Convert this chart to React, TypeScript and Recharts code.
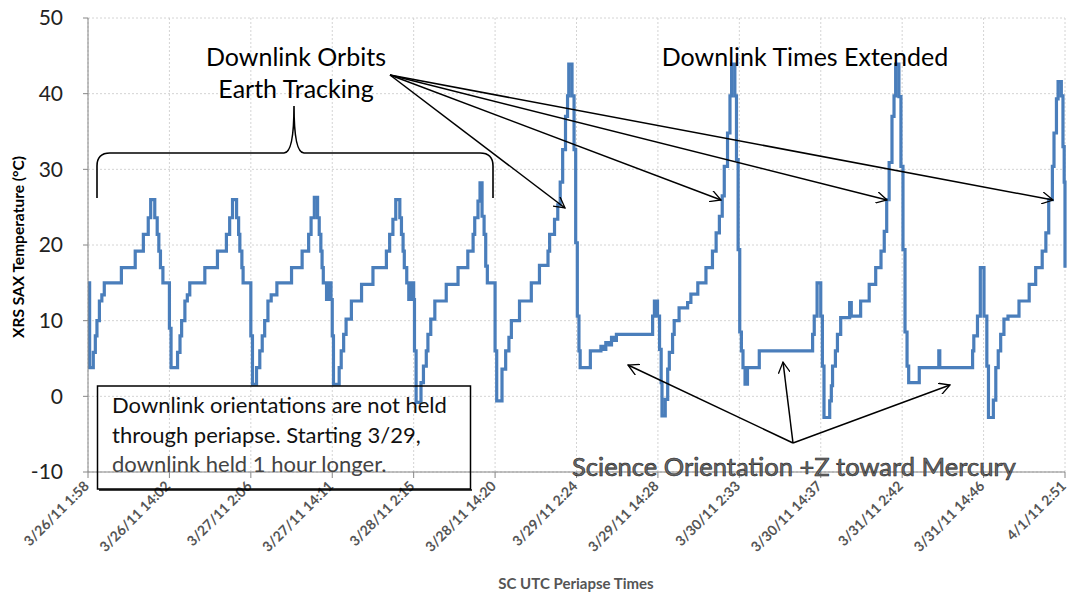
import { LineChart, Line, XAxis, YAxis, CartesianGrid } from 'recharts';

// x = periapse index (0 = 3/26/11 1:58, one unit per ~12 h orbit), t = XRS SAX temperature (°C)
const periapseLabels = [
  '3/26/11 1:58', '3/26/11 14:02', '3/27/11 2:06', '3/27/11 14:11', '3/28/11 2:15',
  '3/28/11 14:20', '3/29/11 2:24', '3/29/11 14:28', '3/30/11 2:33', '3/30/11 14:37',
  '3/31/11 2:42', '3/31/11 14:46', '4/1/11 2:51',
];
const periapseTicks = [0, 1, 2, 3, 4, 5, 6, 7, 8, 9, 10, 11, 12];
const tempTicks = [-10, 0, 10, 20, 30, 40, 50];

const orbit1: [number, number][] = [
  [0, 15], [0.02, 3.8], [0.065, 5.8], [0.09, 8], [0.11, 10], [0.14, 12.6], [0.17, 13.4], [0.2, 15],
  [0.41, 17], [0.58, 19.2], [0.68, 21.4], [0.74, 23.6], [0.77, 26], [0.82, 23.6], [0.85, 21.4],
  [0.87, 19.2], [0.89, 17], [0.92, 15],
];
const orbit2: [number, number][] = [
  [1.0, 9], [1.02, 3.8], [1.1, 5.8], [1.13, 8], [1.15, 10], [1.19, 12.6], [1.22, 13.4], [1.25, 15],
  [1.435, 17], [1.59, 19.2], [1.7, 21.4], [1.74, 23.6], [1.775, 26], [1.825, 23.6], [1.85, 21.4],
  [1.865, 19.2], [1.89, 17], [1.905, 15],
];
const orbit3: [number, number][] = [
  [2.0, 8], [2.02, 1.6], [2.07, 3.8], [2.11, 6], [2.14, 8], [2.17, 10], [2.21, 12.6], [2.25, 13.4],
  [2.32, 15], [2.5, 17], [2.63, 19.2], [2.71, 21.4], [2.74, 23.6], [2.78, 26.3], [2.82, 23.6],
  [2.84, 21.4], [2.86, 19.2], [2.875, 17], [2.89, 15], [2.93, 12.8], [2.945, 15], [2.96, 12.8],
  [2.975, 15], [2.985, 12.8],
];
const orbit4: [number, number][] = [
  [3.0, 8], [3.015, 1.6], [3.085, 3.8], [3.11, 6], [3.14, 8.2], [3.17, 10.2], [3.235, 12.6],
  [3.36, 14.8], [3.5, 17], [3.665, 19.2], [3.705, 21.4], [3.745, 23.4], [3.78, 26], [3.83, 23.6],
  [3.85, 21.4], [3.87, 19.2], [3.885, 17], [3.915, 15], [3.94, 12.8], [3.955, 15], [3.97, 12.8],
  [3.985, 15], [4.0, 12.8],
];
const orbit5: [number, number][] = [
  [4.01, 6], [4.03, -0.8], [4.09, 1.8], [4.12, 4], [4.155, 6], [4.175, 8.2], [4.21, 10.2],
  [4.26, 12.6], [4.4, 14.8], [4.545, 17], [4.665, 19.2], [4.73, 21.4], [4.75, 23.6], [4.79, 25.8],
  [4.815, 28.2], [4.84, 23.8], [4.865, 21.4], [4.885, 17.2], [4.905, 15],
];
const orbit6: [number, number][] = [
  [5.0, 6], [5.02, -0.6], [5.085, 3.6], [5.13, 6], [5.17, 7.8], [5.2, 10], [5.3, 12.6], [5.445, 15],
  [5.545, 17.3], [5.65, 19.2], [5.67, 21.4], [5.73, 23.4], [5.77, 25.3], [5.8, 28.3], [5.83, 32.6],
  [5.865, 37], [5.89, 39.7], [5.905, 43.9], [5.945, 39.7], [5.97, 32.6], [5.99, 20.3], [6.01, 10.6],
  [6.03, 6], [6.045, 3.8],
];
const orbit7: [number, number][] = [
  [6.17, 6], [6.3, 6.6], [6.33, 6.2], [6.36, 7.1], [6.4, 6.8], [6.43, 7.8], [6.46, 7.4], [6.49, 8.2],
  [6.935, 10.6], [6.957, 12.6], [6.995, 10.6], [7.02, 6.2], [7.04, 1.8], [7.05, -2.6], [7.09, -0.4],
  [7.12, 3.6], [7.14, 5.8], [7.18, 8.2], [7.2, 10], [7.26, 11.7], [7.365, 12.4], [7.405, 13.5],
  [7.49, 15], [7.59, 17], [7.67, 19.2], [7.715, 21.6], [7.755, 23.8], [7.79, 26.5], [7.815, 30.4],
  [7.855, 34.8], [7.885, 39.7], [7.905, 43.9], [7.945, 39.7], [7.965, 31.3], [7.985, 19.4],
];
const orbit8: [number, number][] = [
  [8.005, 8.5], [8.025, 6], [8.045, 3.8], [8.07, 1.6], [8.1, 3.8], [8.245, 6], [8.9, 8.2],
  [8.92, 10.6], [8.955, 15], [9.0, 10.6], [9.02, 4], [9.04, -2.8],
];
const orbit9: [number, number][] = [
  [9.11, -0.6], [9.13, 1.4], [9.145, 4], [9.18, 6], [9.205, 8.2], [9.245, 10.4], [9.355, 12.4],
  [9.375, 10.6], [9.49, 12.6], [9.595, 14.8], [9.675, 17], [9.74, 19.2], [9.78, 21.8], [9.81, 26],
  [9.84, 30.9], [9.875, 37], [9.9, 39.7], [9.92, 43.9], [9.96, 39.6], [9.985, 30.4],
];
const orbit10: [number, number][] = [
  [10.01, 19.4], [10.035, 8.5], [10.06, 4], [10.08, 1.8], [10.21, 3.8], [10.45, 6], [10.462, 3.8],
  [10.865, 6], [10.88, 8], [10.925, 10.6], [10.96, 17], [11.005, 10.6], [11.04, 4], [11.06, -2.8],
];
const orbit11: [number, number][] = [
  [11.12, -0.5], [11.15, 3.8], [11.18, 6], [11.21, 8.2], [11.25, 10.2], [11.3, 10.6], [11.435, 12.6],
  [11.56, 14.8], [11.64, 17], [11.72, 19.2], [11.765, 21.6], [11.8, 26], [11.845, 30.4],
  [11.865, 34.8], [11.895, 39.3], [11.915, 41.6], [11.955, 39.7], [11.975, 33], [11.99, 28.3], [12, 17],
];

const data = [
  ...orbit1, ...orbit2, ...orbit3, ...orbit4, ...orbit5, ...orbit6,
  ...orbit7, ...orbit8, ...orbit9, ...orbit10, ...orbit11,
].map(([x, t]) => ({ x, t }));

const FONT = 'Lato, "Open Sans", sans-serif';

const PeriapseTick = (props: any) => {
  const { x, y, payload } = props;
  return (
    <g transform={`translate(${x - 5},${y})`}>
      <text
        x={0}
        y={0}
        dy="0.7em"
        textAnchor="end"
        transform="rotate(-45)"
        fontFamily={FONT}
        fontWeight="bold"
        fontSize={14}
        fill="#555"
      >
        {periapseLabels[payload.value]}
      </text>
    </g>
  );
};

function Notes() {
  const arrow = { stroke: '#000', strokeWidth: 1.5, markerEnd: 'url(#openArrow)' };
  return (
    <svg
      width={1070}
      height={599}
      style={{ position: 'absolute', left: 0, top: 0, pointerEvents: 'none' }}
    >
      <defs>
        <marker id="openArrow" viewBox="0 0 12 12" refX="11" refY="6" markerWidth="12" markerHeight="12"
          markerUnits="userSpaceOnUse" orient="auto">
          <path d="M0,0 L11,6 L0,12" fill="none" stroke="#000" strokeWidth="1.3" />
        </marker>
      </defs>

      <text x={296} y={66} textAnchor="middle" fontFamily={FONT} fontSize={25} fill="#000">Downlink Orbits</text>
      <text x={296} y={98} textAnchor="middle" fontFamily={FONT} fontSize={25} fill="#000">Earth Tracking</text>
      <text x={805} y={66} textAnchor="middle" fontFamily={FONT} fontSize={25} fill="#000">Downlink Times Extended</text>

      <path
        d="M97,198 L97,166 Q97,153 110,153 L284,153 Q294,153 294,106 Q294,153 304,153 L480,153 Q493,153 493,166 L493,198"
        fill="none" stroke="#000" strokeWidth={1.6}
      />

      <line x1={390} y1={75} x2={565} y2={208} {...arrow} />
      <line x1={390} y1={75} x2={721} y2={200} {...arrow} />
      <line x1={390} y1={75} x2={887} y2={200} {...arrow} />
      <line x1={390} y1={75} x2={1053} y2={200} {...arrow} />

      <rect x={97.5} y={386} width={373} height={103} fill="none" stroke="#000" strokeWidth={1.5} />
      <line x1={99} y1={490} x2={472} y2={490} stroke="#000" strokeWidth={1.3} />
      <text fontFamily={FONT} fontSize={22} fill="#111">
        <tspan x={112} y={413}>Downlink orientations are not held</tspan>
        <tspan x={112} y={443}>through periapse. Starting 3/29,</tspan>
        <tspan x={112} y={472} fill="#444">downlink held 1 hour longer.</tspan>
      </text>

      <line x1={793} y1={443} x2={628} y2={365} {...arrow} />
      <line x1={793} y1={443} x2={783} y2={362} {...arrow} />
      <line x1={793} y1={443} x2={950} y2={385} {...arrow} />
      <text x={794} y={476} textAnchor="middle" fontFamily={FONT} fontSize={25.5}
        fill="#6a6a6a" stroke="#222" strokeWidth={0.6}>
        Science Orientation +Z toward Mercury
      </text>

      <text x={18} y={247} transform="rotate(-90 18 247)" textAnchor="middle" dominantBaseline="central"
        fontFamily={FONT} fontWeight="bold" fontSize={15.5} fill="#000">
        XRS SAX Temperature (°C)
      </text>
      <text x={576} y={589} textAnchor="middle" fontFamily={FONT} fontWeight="bold" fontSize={15} fill="#555">
        SC UTC Periapse Times
      </text>
    </svg>
  );
}

export default function App() {
  return (
    <div style={{ position: 'absolute', left: 0, top: 0, width: 1070, height: 599, background: '#fff' }}>
      <LineChart width={1070} height={599} data={data} margin={{ top: 18, right: 5, bottom: 0, left: 28 }}>
        <CartesianGrid stroke="#d4d4d4" strokeDasharray="2 2" />
        <XAxis
          type="number"
          dataKey="x"
          domain={[0, 12]}
          ticks={periapseTicks}
          interval={0}
          height={127}
          tickSize={6}
          tick={<PeriapseTick />}
          axisLine={{ stroke: '#868686' }}
          tickLine={{ stroke: '#868686' }}
        />
        <YAxis
          type="number"
          domain={[-10, 50]}
          ticks={tempTicks}
          width={60}
          tickSize={5}
          tickMargin={20}
          tick={{ fontSize: 21, fill: '#222', fontFamily: FONT }}
          axisLine={{ stroke: '#868686' }}
          tickLine={{ stroke: '#868686' }}
        />
        <Line
          type="stepAfter"
          dataKey="t"
          stroke="#4a7ebb"
          strokeWidth={3.2}
          dot={false}
          isAnimationActive={false}
        />
      </LineChart>
      <Notes />
    </div>
  );
}
